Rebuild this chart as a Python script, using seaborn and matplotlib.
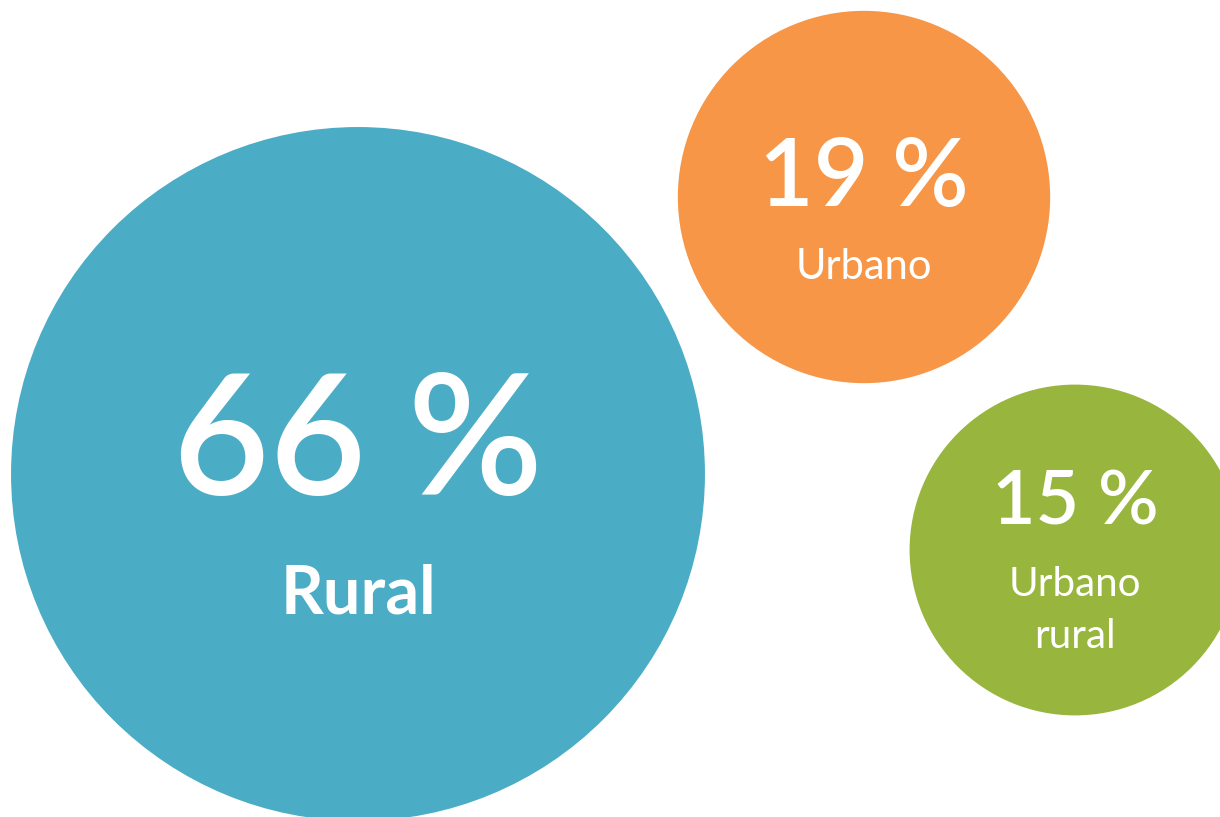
"""
Bubble chart: share of population by area type (rural / urbano / urbano rural).
"""

import matplotlib.pyplot as plt
from matplotlib.patches import Circle
import numpy as np
import seaborn as sns

# ── Data ──────────────────────────────────────────────────────────────────────
CATEGORIES = ["Rural", "Urbano", "Urbano\nrural"]
SHARES     = [66, 19, 15]
COLOURS    = ["#4BACC6", "#F79646", "#98B63D"]

# ── Layout (pixels, y grows downwards) ────────────────────────────────────────
W, H      = 1220, 817
CENTRES   = [(358, 474), (864, 197), (1075, 550)]
AREA_K    = 1824.0          # px² of circle area per percentage point
PCT_SIZE  = [120, 68, 54]
LBL_SIZE  = [48, 30, 29]
LBL_BOLD  = ["bold", "normal", "normal"]
PCT_DY    = [-27, -18, -47]
LBL_DY    = [120, 70, 60]

sns.set_theme(style="white")
plt.rcParams["font.family"] = ["Lato", "DejaVu Sans"]

fig = plt.figure(figsize=(W / 100, H / 100), dpi=100)
ax = fig.add_axes([0, 0, 1, 1])
ax.set_xlim(0, W)
ax.set_ylim(H, 0)
ax.set_aspect("equal")
ax.axis("off")

for i, (cat, share) in enumerate(zip(CATEGORIES, SHARES)):
    cx, cy = CENTRES[i]
    r = np.sqrt(AREA_K * share)
    ax.add_patch(Circle((cx, cy), r, color=COLOURS[i], lw=0))
    ax.text(cx, cy + PCT_DY[i], f"{share} %", color="white",
            fontsize=PCT_SIZE[i], fontweight="semibold",
            ha="center", va="center")
    ax.text(cx, cy + LBL_DY[i], cat, color="white", fontsize=LBL_SIZE[i],
            fontweight=LBL_BOLD[i], ha="center", va="center",
            linespacing=1.5)

fig.savefig("out.png", dpi=100)
plt.close(fig)
